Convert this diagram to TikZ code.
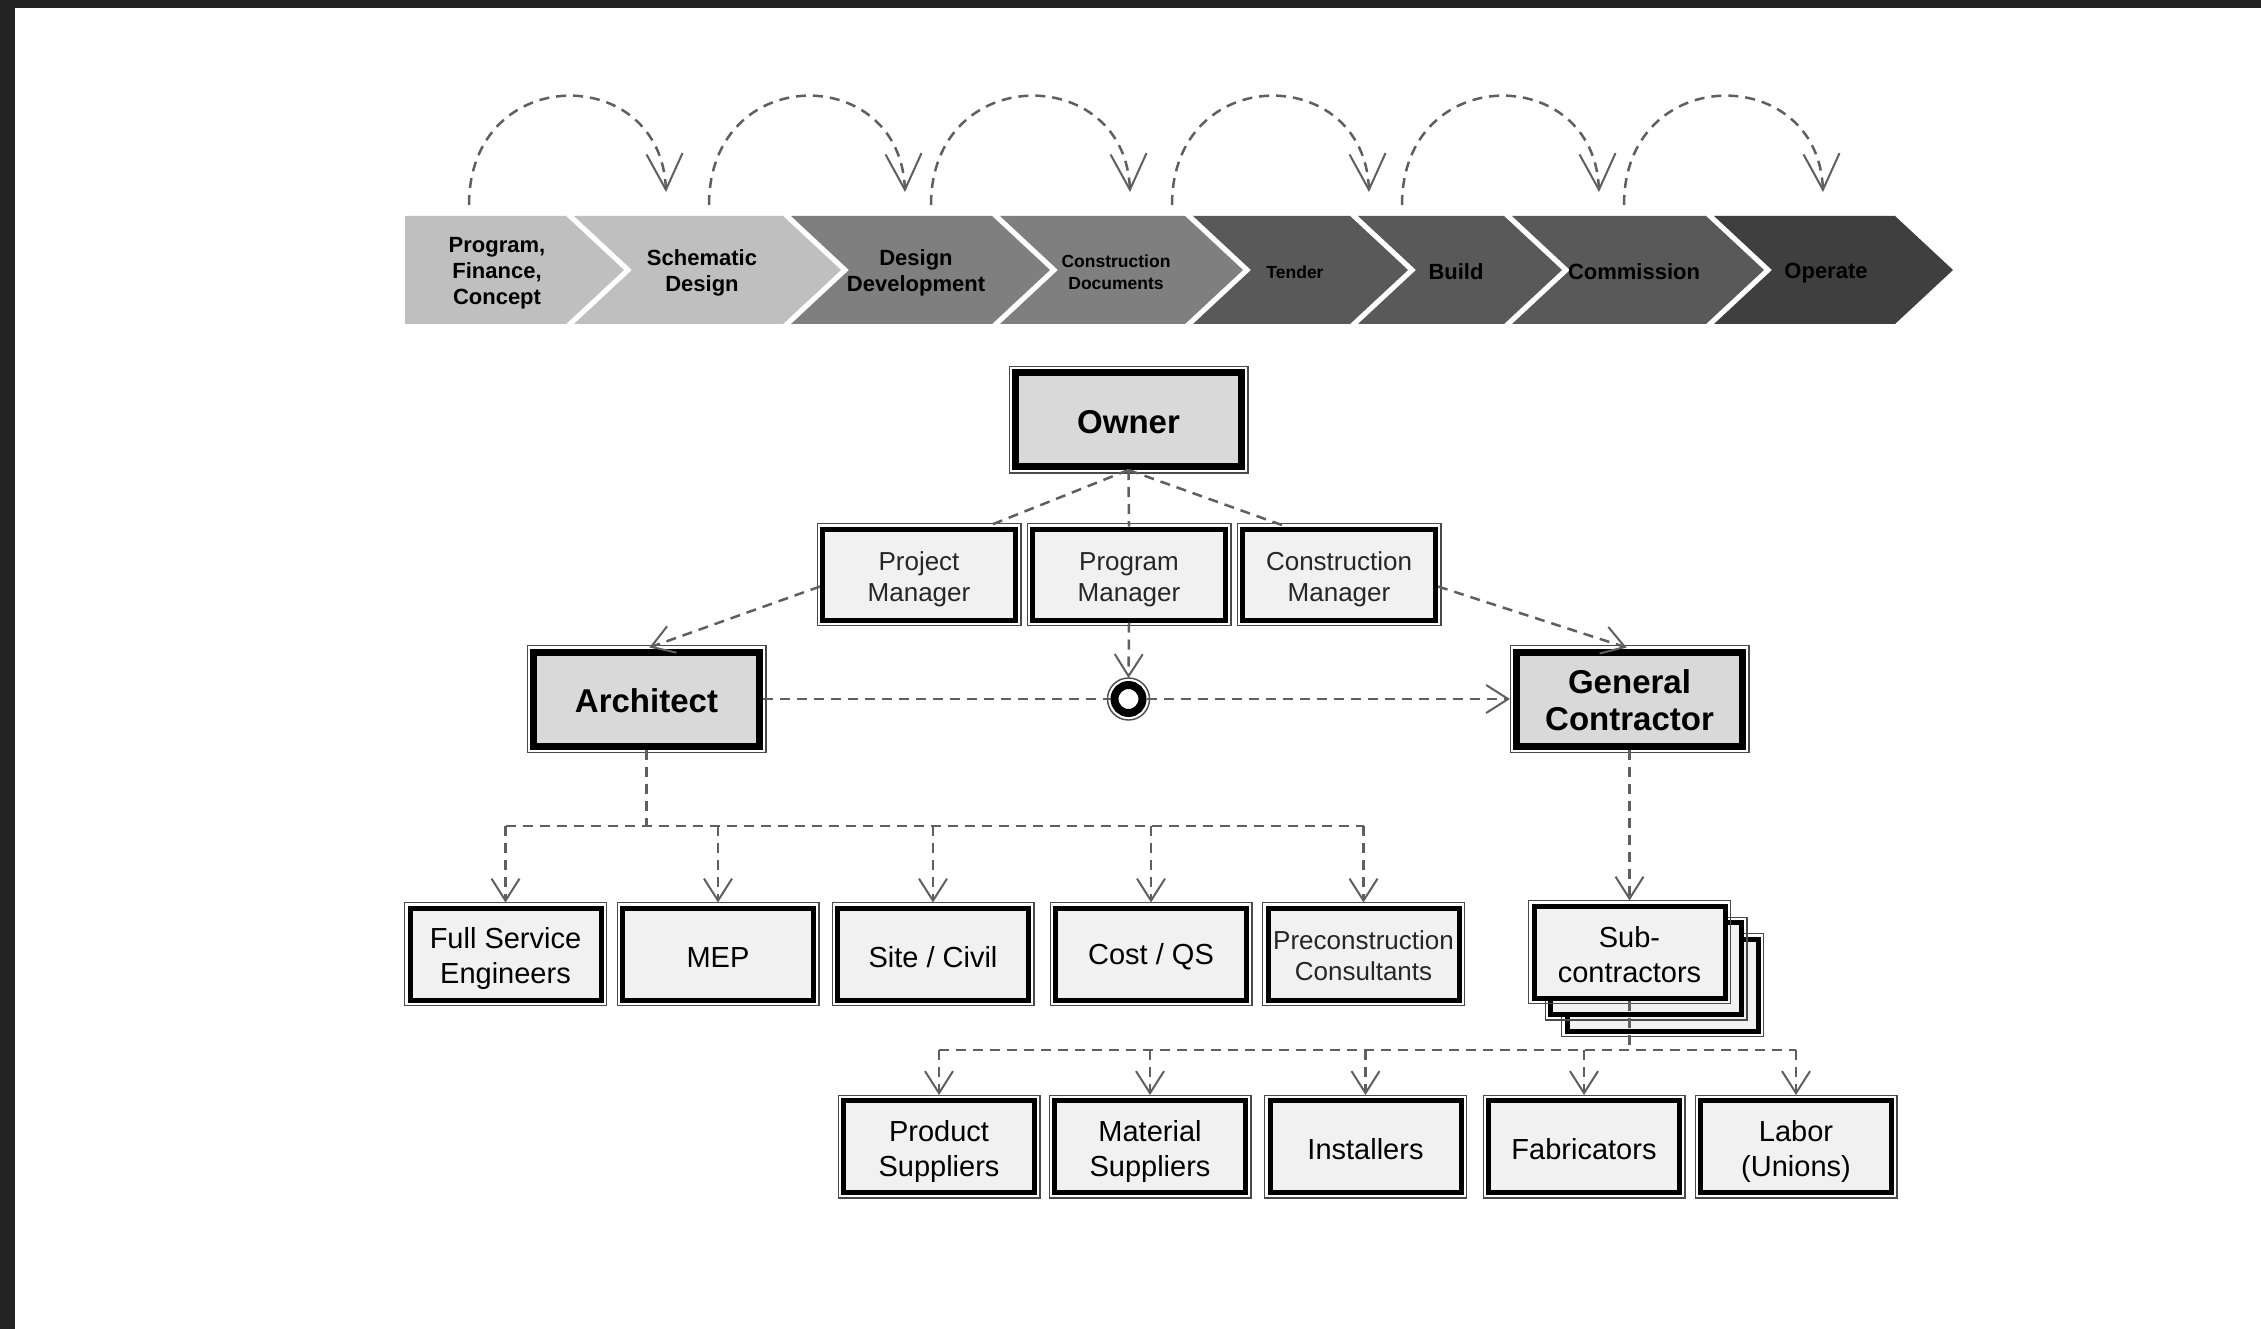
\documentclass[tikz,border=0pt]{standalone}
\usepackage{fontspec}
\setmainfont{Liberation Sans}
\usetikzlibrary{arrows.meta,calc}
\definecolor{frameDark}{HTML}{232323}
\definecolor{chevA}{HTML}{BFBFBF}
\definecolor{chevB}{HTML}{7F7F7F}
\definecolor{chevC}{HTML}{595959}
\definecolor{chevD}{HTML}{3F3F3F}
\definecolor{linkGray}{HTML}{5F5F5F}
\definecolor{bigFill}{HTML}{D9D9D9}
\definecolor{smallFill}{HTML}{F1F1F1}
\definecolor{rimGray}{HTML}{4A4A4A}
\tikzset{
  link/.style={draw=linkGray, line width=2.5pt, dash pattern=on 10pt off 7pt},
  tipV/.style={-{Straight Barb[length=22pt,width=28pt,line width=2pt]}, shorten >=3pt},
  arcTip/.style={-{Straight Barb[length=36pt,width=36pt,line width=2pt]}},
  textdrop/.style={execute at begin node={\rule{0pt}{#1}}},
  rimbox/.style={rectangle, draw=black, align=center, text=black, inner sep=0pt,
    append after command={\pgfextra{\draw[rimGray, line width=1.4pt, solid]
      ($(\tikzlastnode.north west)+(-2.8,-2.8)$) rectangle
      ($(\tikzlastnode.south east)+(2.8,2.8)$);}}},
  bigbox/.style={rimbox, fill=bigFill, line width=7pt, minimum width=226pt, minimum height=94pt,
    font=\fontsize{33}{37}\selectfont\bfseries, textdrop=28pt},
  mgrbox/.style={rimbox, fill=smallFill, line width=5pt, minimum width=193pt, minimum height=91pt,
    font=\fontsize{26}{31}\selectfont, text=black!85, textdrop=59pt},
  smallbox/.style={rimbox, fill=smallFill, line width=5pt, minimum width=191pt, minimum height=92pt,
    font=\fontsize{29}{35}\selectfont, textdrop=27pt},
  chevtext/.style={align=center, text=black, inner sep=0pt, font=\fontsize{22}{26}\selectfont\bfseries},
  chevsmall/.style={chevtext, font=\fontsize{17.5}{21.5}\selectfont\bfseries},
}
\begin{document}
\begin{tikzpicture}[x=1pt, y=-1pt]
% canvas and frame
\fill[white] (0,0) rectangle (2261,1329);
\useasboundingbox (0,0) rectangle (2261,1329);
\fill[frameDark] (0,0) rectangle (2261,8);
\fill[frameDark] (0,0) rectangle (15,1329);

% chevrons
\fill[chevA] (405,216) -- (566,216) -- (624,270) -- (566,324) -- (405,324) -- cycle;
\fill[chevA] (574,216) -- (783,216) -- (841,270) -- (783,324) -- (574,324) -- (632,270) -- cycle;
\fill[chevB] (791,216) -- (992,216) -- (1050,270) -- (992,324) -- (791,324) -- (849,270) -- cycle;
\fill[chevB] (1000,216) -- (1185,216) -- (1243,270) -- (1185,324) -- (1000,324) -- (1058,270) -- cycle;
\fill[chevC] (1193,216) -- (1350,216) -- (1408,270) -- (1350,324) -- (1193,324) -- (1251,270) -- cycle;
\fill[chevC] (1358,216) -- (1504,216) -- (1562,270) -- (1504,324) -- (1358,324) -- (1416,270) -- cycle;
\fill[chevC] (1512,216) -- (1706,216) -- (1764,270) -- (1706,324) -- (1512,324) -- (1570,270) -- cycle;
\fill[chevD] (1714,216) -- (1895,216) -- (1953,270) -- (1895,324) -- (1714,324) -- (1772,270) -- cycle;

\node[chevtext] (ph1) at (497,273) {Program,\\Finance,\\Concept};
\node[chevtext] (ph2) at (702,273) {Schematic\\Design};
\node[chevtext] (ph3) at (916,273) {Design\\Development};
\node[chevsmall] (ph4) at (1116,272) {Construction\\Documents};
\node[chevsmall] (ph5) at (1295,272) {Tender};
\node[chevtext] (ph6) at (1456,272) {Build};
\node[chevtext] (ph7) at (1634,272) {Commission};
\node[chevtext] (ph8) at (1826,273) {Operate};

% arcs above chevrons
\foreach \s/\e [count=\i] in {469/666, 709/905, 931/1130, 1172/1369, 1402/1599, 1624/1823} {
  \coordinate (arcS\i) at (\s,205);
  \coordinate (arcE\i) at (\e,192);
  \draw[link, arcTip] (arcS\i) .. controls +(0,-143) and +(-5,-130) .. (arcE\i);
}

% organisation nodes
\node[bigbox] (owner) at (1128.5,419.5) {Owner};
\node[mgrbox] (pm) at (919,574.5) {Project\\Manager};
\node[mgrbox] (prm) at (1129,574.5) {Program\\Manager};
\node[mgrbox] (cm) at (1339,574.5) {Construction\\Manager};
\node[bigbox] (arch) at (646.5,699) {Architect};
\node[bigbox, textdrop=63pt] (gc) at (1629.5,699) {General\\Contractor};
\node[circle, draw=black, line width=8pt, fill=white, minimum size=28pt, inner sep=0pt] (hub) at (1128.5,699) {};
\draw[rimGray, line width=1.4pt] (hub.center) circle[radius=21pt];

\node[smallbox, textdrop=65pt] (fse) at (505.5,954) {Full Service\\Engineers};
\node[smallbox] (mep) at (718,954) {MEP};
\node[smallbox] (site) at (933,954) {Site / Civil};
\node[smallbox] (cost) at (1151,954) {Cost / QS};
\node[smallbox, font=\fontsize{26}{31}\selectfont, text=black!85, textdrop=54pt] (pre) at (1363.5,954) {Preconstruction\\Consultants};

\node[smallbox] (sub3) at (1662.5,985) {};
\node[smallbox] (sub2) at (1646,968.5) {};
\node[smallbox, textdrop=62pt] (sub) at (1629.5,952) {Sub-\\contractors};

\node[smallbox, textdrop=66pt] (ps) at (939,1146.5) {Product\\Suppliers};
\node[smallbox, textdrop=66pt] (ms) at (1150,1146.5) {Material\\Suppliers};
\node[smallbox] (inst) at (1365.5,1146.5) {Installers};
\node[smallbox] (fab) at (1584,1146.5) {Fabricators};
\node[smallbox, textdrop=66pt] (lab) at (1796,1146.5) {Labor\\(Unions)};

% connectors
\draw[link] (owner.south) -- ($(pm.north)+(68,0)$);
\draw[link] (owner.south) -- (prm.north);
\draw[link] (owner.south) -- ($(cm.north)+(-53,0)$);
\draw[link, tipV] ($(pm.west)+(0,12)$) -- (arch.north);
\draw[link, tipV] ($(cm.east)+(0,12)$) -- (gc.north);
\draw[link, tipV] (prm.south) -- (hub.north);
\draw[link] (arch.east) -- (hub.west);
\draw[link, tipV] (hub.east) -- (gc.west);

\coordinate (abusY) at (0,826);
\draw[link] (arch.south) -- (arch.south |- abusY);
\draw[link] (fse.north |- abusY) -- (pre.north |- abusY);
\foreach \n in {fse, mep, site, cost, pre} {
  \draw[link, tipV] (\n.north |- abusY) -- (\n.north);
}

\draw[link, tipV] (gc.south) -- (sub.north);
\coordinate (sbusY) at (0,1050);
\draw[link] (sub.south) -- (sub.south |- sbusY);
\draw[link] (ps.north |- sbusY) -- (lab.north |- sbusY);
\foreach \n in {ps, ms, inst, fab, lab} {
  \draw[link, tipV] (\n.north |- sbusY) -- (\n.north);
}
\end{tikzpicture}
\end{document}
